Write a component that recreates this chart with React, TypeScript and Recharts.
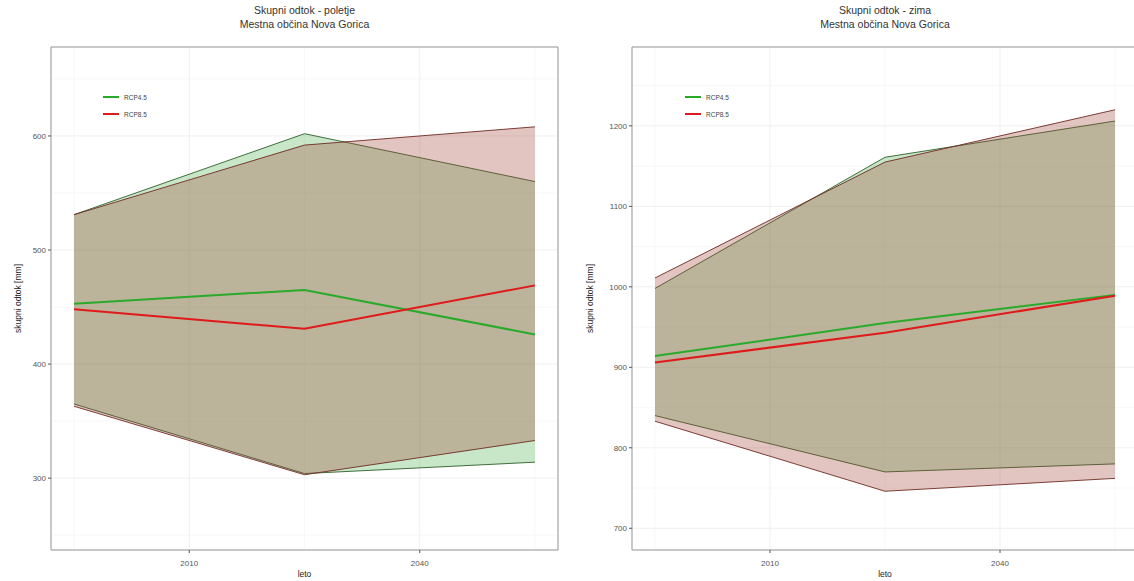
import { ComposedChart, Area, Line, XAxis, YAxis, CartesianGrid, ReferenceArea } from 'recharts'

const years = [1995, 2025, 2055]
const xTicks = [2010, 2040]
const xMinor = [1995, 2025, 2055]

// poletje (summer)
const sumRcp45Min = [365, 304, 314]
const sumRcp45Max = [531, 602, 560]
const sumRcp45Mean = [453, 465, 426]
const sumRcp85Min = [363, 303, 333]
const sumRcp85Max = [531, 592, 608]
const sumRcp85Mean = [448, 431, 469]
const sumYTicks = [300, 400, 500, 600]
const sumYMinor = [250, 350, 450, 550, 650]

// zima (winter)
const winRcp45Min = [840, 770, 780]
const winRcp45Max = [998, 1161, 1206]
const winRcp45Mean = [914, 955, 990]
const winRcp85Min = [833, 746, 762]
const winRcp85Max = [1011, 1155, 1220]
const winRcp85Mean = [906, 943, 989]
const winYTicks = [700, 800, 900, 1000, 1100, 1200]
const winYMinor = [750, 850, 950, 1050, 1150, 1250]

const FONT = '"Liberation Sans", Arial, sans-serif'
const GREEN = '#2aaa2a'
const RED = '#e01a1a'

function buildRows(min45: number[], max45: number[], mean45: number[], min85: number[], max85: number[], mean85: number[]) {
  return years.map((year, i) => ({
    year,
    r45: [min45[i], max45[i]],
    m45: mean45[i],
    r85: [min85[i], max85[i]],
    m85: mean85[i],
  }))
}

const LegendBox = ({ left }: { left: number }) => (
  <svg width={70} height={30} style={{ position: 'absolute', left, top: 90, zIndex: 2 }}>
    <line x1={3} x2={19} y1={7} y2={7} stroke={GREEN} strokeWidth={2} />
    <text x={24} y={9.5} fontSize={6.5} fill="#444" fontFamily={FONT}>RCP4.5</text>
    <line x1={3} x2={19} y1={24} y2={24} stroke={RED} strokeWidth={2} />
    <text x={24} y={26.5} fontSize={6.5} fill="#444" fontFamily={FONT}>RCP8.5</text>
  </svg>
)

interface PanelProps {
  title: string
  rows: ReturnType<typeof buildRows>
  yDomain: [number, number]
  yTicks: number[]
  yMinor: number[]
  left: number
  width: number
  yAxisWidth: number
  marginRight: number
  legendLeft: number
  labelOffset: number
}

function Panel({ title, rows, yDomain, yTicks, yMinor, left, width, yAxisWidth, marginRight, legendLeft, labelOffset }: PanelProps) {
  const plotW = width - yAxisWidth - marginRight
  return (
    <div style={{ position: 'absolute', left, top: 0, width, height: 600 }}>
      <div
        style={{
          position: 'absolute', left: yAxisWidth, top: 3, width: plotW, textAlign: 'center',
          fontFamily: FONT, fontSize: 10.5, lineHeight: '14px', color: '#333',
        }}
      >
        <div>{title}</div>
        <div>Mestna občina Nova Gorica</div>
      </div>
      <LegendBox left={legendLeft} />
      <ComposedChart width={width} height={600} data={rows} margin={{ top: 47, right: marginRight, bottom: 20, left: 0 }}>
        <CartesianGrid stroke="#f4f4f4" strokeWidth={0.6} horizontalValues={yMinor} verticalValues={xMinor} />
        <CartesianGrid stroke="#ebebeb" strokeWidth={0.8} />
        <XAxis
          dataKey="year" type="number" domain={[1992, 2058]} ticks={xTicks} height={30}
          axisLine={false} tickSize={3} tickMargin={7} tickLine={{ stroke: '#555' }}
          tick={{ fontSize: 8, fill: '#555', fontFamily: FONT }}
          label={{ value: 'leto', position: 'insideBottom', offset: 3, fontSize: 8.5, fill: '#222', fontFamily: FONT }}
        />
        <YAxis
          type="number" domain={yDomain} ticks={yTicks} width={yAxisWidth} allowDataOverflow
          axisLine={false} tickSize={3} tickLine={{ stroke: '#555' }}
          tick={{ fontSize: 8, fill: '#555', fontFamily: FONT }}
          label={{ value: 'skupni odtok [mm]', angle: -90, position: 'insideLeft', offset: labelOffset, fontSize: 8.5, fill: '#222', fontFamily: FONT, style: { textAnchor: 'middle' } }}
        />
        <Area type="linear" dataKey="r45" fill="#48ac48" fillOpacity={0.3} stroke="#2f5f2a" strokeWidth={0.9} dot={false} activeDot={false} isAnimationActive={false} />
        <Area type="linear" dataKey="r85" fill="#a03f32" fillOpacity={0.3} stroke="#6e2a22" strokeWidth={0.9} dot={false} activeDot={false} isAnimationActive={false} />
        <Line type="linear" dataKey="m45" stroke={GREEN} strokeWidth={2} dot={false} activeDot={false} isAnimationActive={false} />
        <Line type="linear" dataKey="m85" stroke={RED} strokeWidth={2} dot={false} activeDot={false} isAnimationActive={false} />
        <ReferenceArea x1={1992} x2={2058} y1={yDomain[0]} y2={yDomain[1]} fill="none" stroke="#999" strokeWidth={1} ifOverflow="visible" />
      </ComposedChart>
    </div>
  )
}

export default function App() {
  const summer = buildRows(sumRcp45Min, sumRcp45Max, sumRcp45Mean, sumRcp85Min, sumRcp85Max, sumRcp85Mean)
  const winter = buildRows(winRcp45Min, winRcp45Max, winRcp45Mean, winRcp85Min, winRcp85Max, winRcp85Mean)
  return (
    <div style={{ position: 'fixed', left: 0, top: 0, width: 1134, height: 581, overflow: 'hidden', background: '#fff' }}>
      <Panel title="Skupni odtok - poletje" rows={summer} yDomain={[237, 678]} yTicks={sumYTicks} yMinor={sumYMinor}
        left={0} width={567} yAxisWidth={51} marginRight={9} legendLeft={100} labelOffset={18} />
      <Panel title="Skupni odtok - zima" rows={winter} yDomain={[673, 1298]} yTicks={winYTicks} yMinor={winYMinor}
        left={567} width={573} yAxisWidth={65} marginRight={2} legendLeft={115} labelOffset={23} />
    </div>
  )
}
